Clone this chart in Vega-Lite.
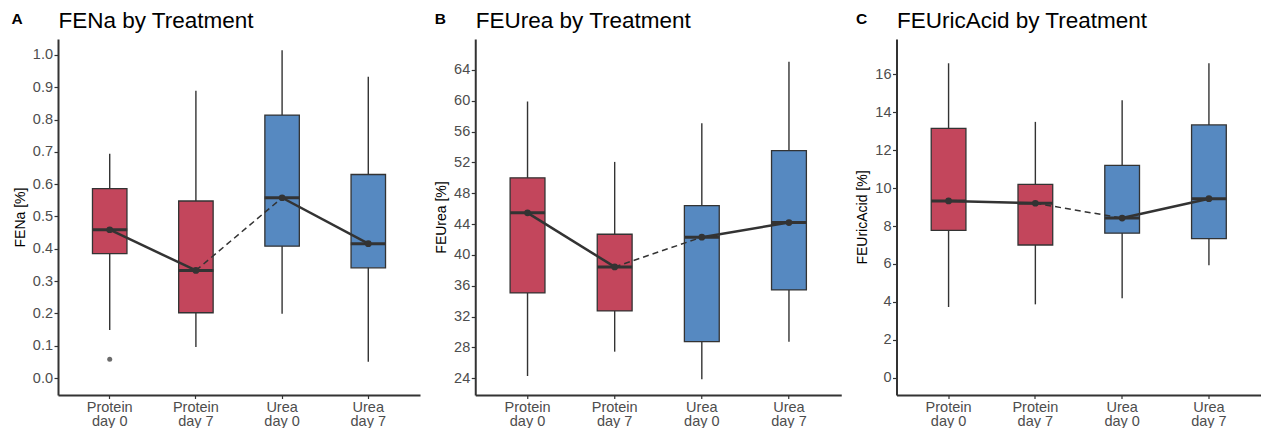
{
  "$schema": "https://vega.github.io/schema/vega-lite/v6.json",
  "padding": {"left": 11, "top": 9, "right": 0, "bottom": 0},
  "background": "white",
  "bounds": "flush",
  "spacing": 55.25,
  "config": {
    "font": "Liberation Sans",
    "view": {"stroke": null},
    "axis": {
      "grid": false,
      "domainColor": "#333333",
      "domainWidth": 2,
      "tickColor": "#333333",
      "tickWidth": 1.2,
      "labelColor": "#4D4D4D",
      "labelFontSize": 14.5,
      "titleColor": "#000000",
      "titleFontWeight": "normal",
      "titleFontSize": 14
    }
  },
  "datasets": {
    "stats": [
      {"panel": "FENa", "treatment": "Protein day 0", "group": "Protein", "lower": 0.149, "q1": 0.385, "median": 0.459, "q3": 0.586, "upper": 0.694},
      {"panel": "FENa", "treatment": "Protein day 7", "group": "Protein", "lower": 0.096, "q1": 0.202, "median": 0.333, "q3": 0.548, "upper": 0.889},
      {"panel": "FENa", "treatment": "Urea day 0", "group": "Urea", "lower": 0.199, "q1": 0.408, "median": 0.558, "q3": 0.814, "upper": 1.015},
      {"panel": "FENa", "treatment": "Urea day 7", "group": "Urea", "lower": 0.05, "q1": 0.341, "median": 0.416, "q3": 0.63, "upper": 0.933},
      {"panel": "FEUrea", "treatment": "Protein day 0", "group": "Protein", "lower": 24.3, "q1": 35.07, "median": 45.45, "q3": 50.0, "upper": 59.9},
      {"panel": "FEUrea", "treatment": "Protein day 7", "group": "Protein", "lower": 27.45, "q1": 32.73, "median": 38.44, "q3": 42.68, "upper": 52.06},
      {"panel": "FEUrea", "treatment": "Urea day 0", "group": "Urea", "lower": 23.87, "q1": 28.75, "median": 42.3, "q3": 46.4, "upper": 57.08},
      {"panel": "FEUrea", "treatment": "Urea day 7", "group": "Urea", "lower": 28.75, "q1": 35.46, "median": 44.19, "q3": 53.53, "upper": 65.04},
      {"panel": "FEUricAcid", "treatment": "Protein day 0", "group": "Protein", "lower": 3.73, "q1": 7.77, "median": 9.32, "q3": 13.15, "upper": 16.58},
      {"panel": "FEUricAcid", "treatment": "Protein day 7", "group": "Protein", "lower": 3.87, "q1": 7.0, "median": 9.2, "q3": 10.2, "upper": 13.49},
      {"panel": "FEUricAcid", "treatment": "Urea day 0", "group": "Urea", "lower": 4.19, "q1": 7.62, "median": 8.42, "q3": 11.2, "upper": 14.63},
      {"panel": "FEUricAcid", "treatment": "Urea day 7", "group": "Urea", "lower": 5.93, "q1": 7.33, "median": 9.44, "q3": 13.33, "upper": 16.58}
    ],
    "segs": [
      {"panel": "FENa", "seg": 1, "style": "solid", "treatment": "Protein day 0", "median": 0.459},
      {"panel": "FENa", "seg": 1, "style": "solid", "treatment": "Protein day 7", "median": 0.333},
      {"panel": "FENa", "seg": 2, "style": "dashed", "treatment": "Protein day 7", "median": 0.333},
      {"panel": "FENa", "seg": 2, "style": "dashed", "treatment": "Urea day 0", "median": 0.558},
      {"panel": "FENa", "seg": 3, "style": "solid", "treatment": "Urea day 0", "median": 0.558},
      {"panel": "FENa", "seg": 3, "style": "solid", "treatment": "Urea day 7", "median": 0.416},
      {"panel": "FEUrea", "seg": 1, "style": "solid", "treatment": "Protein day 0", "median": 45.45},
      {"panel": "FEUrea", "seg": 1, "style": "solid", "treatment": "Protein day 7", "median": 38.44},
      {"panel": "FEUrea", "seg": 2, "style": "dashed", "treatment": "Protein day 7", "median": 38.44},
      {"panel": "FEUrea", "seg": 2, "style": "dashed", "treatment": "Urea day 0", "median": 42.3},
      {"panel": "FEUrea", "seg": 3, "style": "solid", "treatment": "Urea day 0", "median": 42.3},
      {"panel": "FEUrea", "seg": 3, "style": "solid", "treatment": "Urea day 7", "median": 44.19},
      {"panel": "FEUricAcid", "seg": 1, "style": "solid", "treatment": "Protein day 0", "median": 9.32},
      {"panel": "FEUricAcid", "seg": 1, "style": "solid", "treatment": "Protein day 7", "median": 9.2},
      {"panel": "FEUricAcid", "seg": 2, "style": "dashed", "treatment": "Protein day 7", "median": 9.2},
      {"panel": "FEUricAcid", "seg": 2, "style": "dashed", "treatment": "Urea day 0", "median": 8.42},
      {"panel": "FEUricAcid", "seg": 3, "style": "solid", "treatment": "Urea day 0", "median": 8.42},
      {"panel": "FEUricAcid", "seg": 3, "style": "solid", "treatment": "Urea day 7", "median": 9.44}
    ],
    "outliers": [
      {"panel": "FENa", "treatment": "Protein day 0", "value": 0.058}
    ]
  },
  "hconcat": [
    {
      "width": 362,
      "height": 356,
      "resolve": {"axis": {"x": "independent", "y": "independent"}},
      "layer": [
        {
          "data": {"name": "stats"},
          "transform": [{"filter": "datum.panel === 'FENa'"}],
          "mark": {"type": "rule", "color": "#333333", "strokeWidth": 1.4},
          "encoding": {
            "x": {"field": "treatment", "type": "nominal", "sort": ["Protein day 0", "Protein day 7", "Urea day 0", "Urea day 7"], "scale": {"paddingInner": 0.6, "paddingOuter": 0.4},
              "axis": {"orient": "bottom", "title": "A", "titleX": -47, "titleY": -372, "titleAlign": "left", "titleBaseline": "alphabetic", "titleAngle": 0, "titleFontWeight": "bold", "titleFontSize": 15.5, "labelAngle": 0, "labelBaseline": "top", "labelExpr": "[substring(datum.label, 0, indexof(datum.label, ' ')), substring(datum.label, indexof(datum.label, ' ') + 1)]", "labelLineHeight": 14.5, "labelPadding": 1.5, "tickSize": 3.5}},
            "y": {"field": "lower", "type": "quantitative", "scale": {"domain": [-0.0526, 1.0495], "nice": false, "zero": false},
              "axis": {"orient": "left", "title": "FENa [%]", "values": [0, 0.1, 0.2, 0.3, 0.4, 0.5, 0.6, 0.7, 0.8, 0.9, 1.0], "format": ".1f", "tickSize": 4, "labelPadding": 1.5, "titlePadding": 5}},
            "y2": {"field": "upper"}
          }
        },
        {
          "data": {"name": "stats"},
          "transform": [{"filter": "datum.panel === 'FENa'"}],
          "mark": {"type": "bar", "stroke": "#333333", "strokeWidth": 1.3},
          "encoding": {
            "x": {"field": "treatment", "type": "nominal", "sort": ["Protein day 0", "Protein day 7", "Urea day 0", "Urea day 7"], "scale": {"paddingInner": 0.6, "paddingOuter": 0.4}, "axis": null},
            "y": {"field": "q1", "type": "quantitative", "scale": {"domain": [-0.0526, 1.0495], "nice": false, "zero": false}, "axis": null},
            "y2": {"field": "q3"},
            "color": {"field": "group", "type": "nominal", "scale": {"domain": ["Protein", "Urea"], "range": ["#C3465C", "#5689C1"]}, "legend": null}
          }
        },
        {
          "data": {"name": "stats"},
          "transform": [{"filter": "datum.panel === 'FENa'"}],
          "mark": {"type": "tick", "orient": "horizontal", "color": "#333333", "thickness": 3, "size": 35, "opacity": 1},
          "encoding": {
            "x": {"field": "treatment", "type": "nominal", "sort": ["Protein day 0", "Protein day 7", "Urea day 0", "Urea day 7"], "scale": {"paddingInner": 0.6, "paddingOuter": 0.4}, "axis": null},
            "y": {"field": "median", "type": "quantitative", "scale": {"domain": [-0.0526, 1.0495], "nice": false, "zero": false}, "axis": null}
          }
        },
        {
          "data": {"name": "segs"},
          "transform": [{"filter": "datum.panel === 'FENa' && datum.style === 'solid'"}],
          "mark": {"type": "line", "color": "#333333", "strokeWidth": 2.5},
          "encoding": {
            "x": {"field": "treatment", "type": "nominal", "sort": ["Protein day 0", "Protein day 7", "Urea day 0", "Urea day 7"], "scale": {"paddingInner": 0.6, "paddingOuter": 0.4}, "axis": null},
            "y": {"field": "median", "type": "quantitative", "scale": {"domain": [-0.0526, 1.0495], "nice": false, "zero": false}, "axis": null},
            "detail": {"field": "seg", "type": "nominal"}
          }
        },
        {
          "data": {"name": "segs"},
          "transform": [{"filter": "datum.panel === 'FENa' && datum.style === 'dashed'"}],
          "mark": {"type": "line", "color": "#333333", "strokeWidth": 1.5, "strokeDash": [6, 4]},
          "encoding": {
            "x": {"field": "treatment", "type": "nominal", "sort": ["Protein day 0", "Protein day 7", "Urea day 0", "Urea day 7"], "scale": {"paddingInner": 0.6, "paddingOuter": 0.4}, "axis": null},
            "y": {"field": "median", "type": "quantitative", "scale": {"domain": [-0.0526, 1.0495], "nice": false, "zero": false}, "axis": null},
            "detail": {"field": "seg", "type": "nominal"}
          }
        },
        {
          "data": {"name": "stats"},
          "transform": [{"filter": "datum.panel === 'FENa'"}],
          "mark": {"type": "point", "filled": true, "color": "#333333", "size": 45, "opacity": 1},
          "encoding": {
            "x": {"field": "treatment", "type": "nominal", "sort": ["Protein day 0", "Protein day 7", "Urea day 0", "Urea day 7"], "scale": {"paddingInner": 0.6, "paddingOuter": 0.4},
              "axis": {"orient": "top", "domain": false, "ticks": false, "labels": false, "title": "FENa by Treatment", "titleX": 0, "titleY": -12, "titleAlign": "left", "titleBaseline": "alphabetic", "titleAngle": 0, "titleFontSize": 22.5, "titleFontWeight": "normal", "titleColor": "#000000"}},
            "y": {"field": "median", "type": "quantitative", "scale": {"domain": [-0.0526, 1.0495], "nice": false, "zero": false}, "axis": null}
          }
        },
        {
          "data": {"name": "outliers"},
          "transform": [{"filter": "datum.panel === 'FENa'"}],
          "mark": {"type": "point", "filled": true, "color": "#6B6B6B", "size": 25, "opacity": 1},
          "encoding": {
            "x": {"field": "treatment", "type": "nominal", "sort": ["Protein day 0", "Protein day 7", "Urea day 0", "Urea day 7"], "scale": {"paddingInner": 0.6, "paddingOuter": 0.4}, "axis": null},
            "y": {"field": "value", "type": "quantitative", "scale": {"domain": [-0.0526, 1.0495], "nice": false, "zero": false}, "axis": null}
          }
        }
      ]
    },
    {
      "width": 366,
      "height": 356,
      "resolve": {"axis": {"x": "independent", "y": "independent"}},
      "layer": [
        {
          "data": {"name": "stats"},
          "transform": [{"filter": "datum.panel === 'FEUrea'"}],
          "mark": {"type": "rule", "color": "#333333", "strokeWidth": 1.4},
          "encoding": {
            "x": {"field": "treatment", "type": "nominal", "sort": ["Protein day 0", "Protein day 7", "Urea day 0", "Urea day 7"], "scale": {"paddingInner": 0.6, "paddingOuter": 0.4},
              "axis": {"orient": "bottom", "title": "B", "titleX": -41, "titleY": -372, "titleAlign": "left", "titleBaseline": "alphabetic", "titleAngle": 0, "titleFontWeight": "bold", "titleFontSize": 15.5, "labelAngle": 0, "labelBaseline": "top", "labelExpr": "[substring(datum.label, 0, indexof(datum.label, ' ')), substring(datum.label, indexof(datum.label, ' ') + 1)]", "labelLineHeight": 14.5, "labelPadding": 1.5, "tickSize": 3.5}},
            "y": {"field": "lower", "type": "quantitative", "scale": {"domain": [21.83, 68.0], "nice": false, "zero": false},
              "axis": {"orient": "left", "title": "FEUrea [%]", "values": [24, 28, 32, 36, 40, 44, 48, 52, 56, 60, 64], "format": "d", "tickSize": 4, "labelPadding": 1.5, "titlePadding": 5}},
            "y2": {"field": "upper"}
          }
        },
        {
          "data": {"name": "stats"},
          "transform": [{"filter": "datum.panel === 'FEUrea'"}],
          "mark": {"type": "bar", "stroke": "#333333", "strokeWidth": 1.3},
          "encoding": {
            "x": {"field": "treatment", "type": "nominal", "sort": ["Protein day 0", "Protein day 7", "Urea day 0", "Urea day 7"], "scale": {"paddingInner": 0.6, "paddingOuter": 0.4}, "axis": null},
            "y": {"field": "q1", "type": "quantitative", "scale": {"domain": [21.83, 68.0], "nice": false, "zero": false}, "axis": null},
            "y2": {"field": "q3"},
            "color": {"field": "group", "type": "nominal", "scale": {"domain": ["Protein", "Urea"], "range": ["#C3465C", "#5689C1"]}, "legend": null}
          }
        },
        {
          "data": {"name": "stats"},
          "transform": [{"filter": "datum.panel === 'FEUrea'"}],
          "mark": {"type": "tick", "orient": "horizontal", "color": "#333333", "thickness": 3, "size": 35, "opacity": 1},
          "encoding": {
            "x": {"field": "treatment", "type": "nominal", "sort": ["Protein day 0", "Protein day 7", "Urea day 0", "Urea day 7"], "scale": {"paddingInner": 0.6, "paddingOuter": 0.4}, "axis": null},
            "y": {"field": "median", "type": "quantitative", "scale": {"domain": [21.83, 68.0], "nice": false, "zero": false}, "axis": null}
          }
        },
        {
          "data": {"name": "segs"},
          "transform": [{"filter": "datum.panel === 'FEUrea' && datum.style === 'solid'"}],
          "mark": {"type": "line", "color": "#333333", "strokeWidth": 2.5},
          "encoding": {
            "x": {"field": "treatment", "type": "nominal", "sort": ["Protein day 0", "Protein day 7", "Urea day 0", "Urea day 7"], "scale": {"paddingInner": 0.6, "paddingOuter": 0.4}, "axis": null},
            "y": {"field": "median", "type": "quantitative", "scale": {"domain": [21.83, 68.0], "nice": false, "zero": false}, "axis": null},
            "detail": {"field": "seg", "type": "nominal"}
          }
        },
        {
          "data": {"name": "segs"},
          "transform": [{"filter": "datum.panel === 'FEUrea' && datum.style === 'dashed'"}],
          "mark": {"type": "line", "color": "#333333", "strokeWidth": 1.5, "strokeDash": [6, 4]},
          "encoding": {
            "x": {"field": "treatment", "type": "nominal", "sort": ["Protein day 0", "Protein day 7", "Urea day 0", "Urea day 7"], "scale": {"paddingInner": 0.6, "paddingOuter": 0.4}, "axis": null},
            "y": {"field": "median", "type": "quantitative", "scale": {"domain": [21.83, 68.0], "nice": false, "zero": false}, "axis": null},
            "detail": {"field": "seg", "type": "nominal"}
          }
        },
        {
          "data": {"name": "stats"},
          "transform": [{"filter": "datum.panel === 'FEUrea'"}],
          "mark": {"type": "point", "filled": true, "color": "#333333", "size": 45, "opacity": 1},
          "encoding": {
            "x": {"field": "treatment", "type": "nominal", "sort": ["Protein day 0", "Protein day 7", "Urea day 0", "Urea day 7"], "scale": {"paddingInner": 0.6, "paddingOuter": 0.4},
              "axis": {"orient": "top", "domain": false, "ticks": false, "labels": false, "title": "FEUrea by Treatment", "titleX": 0, "titleY": -12, "titleAlign": "left", "titleBaseline": "alphabetic", "titleAngle": 0, "titleFontSize": 22.5, "titleFontWeight": "normal", "titleColor": "#000000"}},
            "y": {"field": "median", "type": "quantitative", "scale": {"domain": [21.83, 68.0], "nice": false, "zero": false}, "axis": null}
          }
        }
      ]
    },
    {
      "width": 364.5,
      "height": 356,
      "resolve": {"axis": {"x": "independent", "y": "independent"}},
      "layer": [
        {
          "data": {"name": "stats"},
          "transform": [{"filter": "datum.panel === 'FEUricAcid'"}],
          "mark": {"type": "rule", "color": "#333333", "strokeWidth": 1.4},
          "encoding": {
            "x": {"field": "treatment", "type": "nominal", "sort": ["Protein day 0", "Protein day 7", "Urea day 0", "Urea day 7"], "scale": {"paddingInner": 0.6, "paddingOuter": 0.4},
              "axis": {"orient": "bottom", "title": "C", "titleX": -41, "titleY": -372, "titleAlign": "left", "titleBaseline": "alphabetic", "titleAngle": 0, "titleFontWeight": "bold", "titleFontSize": 15.5, "labelAngle": 0, "labelBaseline": "top", "labelExpr": "[substring(datum.label, 0, indexof(datum.label, ' ')), substring(datum.label, indexof(datum.label, ' ') + 1)]", "labelLineHeight": 14.5, "labelPadding": 1.5, "tickSize": 3.5}},
            "y": {"field": "lower", "type": "quantitative", "scale": {"domain": [-0.91, 17.86], "nice": false, "zero": false},
              "axis": {"orient": "left", "title": "FEUricAcid [%]", "values": [0, 2, 4, 6, 8, 10, 12, 14, 16], "format": "d", "tickSize": 4, "labelPadding": 1.5, "titlePadding": 5}},
            "y2": {"field": "upper"}
          }
        },
        {
          "data": {"name": "stats"},
          "transform": [{"filter": "datum.panel === 'FEUricAcid'"}],
          "mark": {"type": "bar", "stroke": "#333333", "strokeWidth": 1.3},
          "encoding": {
            "x": {"field": "treatment", "type": "nominal", "sort": ["Protein day 0", "Protein day 7", "Urea day 0", "Urea day 7"], "scale": {"paddingInner": 0.6, "paddingOuter": 0.4}, "axis": null},
            "y": {"field": "q1", "type": "quantitative", "scale": {"domain": [-0.91, 17.86], "nice": false, "zero": false}, "axis": null},
            "y2": {"field": "q3"},
            "color": {"field": "group", "type": "nominal", "scale": {"domain": ["Protein", "Urea"], "range": ["#C3465C", "#5689C1"]}, "legend": null}
          }
        },
        {
          "data": {"name": "stats"},
          "transform": [{"filter": "datum.panel === 'FEUricAcid'"}],
          "mark": {"type": "tick", "orient": "horizontal", "color": "#333333", "thickness": 3, "size": 35, "opacity": 1},
          "encoding": {
            "x": {"field": "treatment", "type": "nominal", "sort": ["Protein day 0", "Protein day 7", "Urea day 0", "Urea day 7"], "scale": {"paddingInner": 0.6, "paddingOuter": 0.4}, "axis": null},
            "y": {"field": "median", "type": "quantitative", "scale": {"domain": [-0.91, 17.86], "nice": false, "zero": false}, "axis": null}
          }
        },
        {
          "data": {"name": "segs"},
          "transform": [{"filter": "datum.panel === 'FEUricAcid' && datum.style === 'solid'"}],
          "mark": {"type": "line", "color": "#333333", "strokeWidth": 2.5},
          "encoding": {
            "x": {"field": "treatment", "type": "nominal", "sort": ["Protein day 0", "Protein day 7", "Urea day 0", "Urea day 7"], "scale": {"paddingInner": 0.6, "paddingOuter": 0.4}, "axis": null},
            "y": {"field": "median", "type": "quantitative", "scale": {"domain": [-0.91, 17.86], "nice": false, "zero": false}, "axis": null},
            "detail": {"field": "seg", "type": "nominal"}
          }
        },
        {
          "data": {"name": "segs"},
          "transform": [{"filter": "datum.panel === 'FEUricAcid' && datum.style === 'dashed'"}],
          "mark": {"type": "line", "color": "#333333", "strokeWidth": 1.5, "strokeDash": [6, 4]},
          "encoding": {
            "x": {"field": "treatment", "type": "nominal", "sort": ["Protein day 0", "Protein day 7", "Urea day 0", "Urea day 7"], "scale": {"paddingInner": 0.6, "paddingOuter": 0.4}, "axis": null},
            "y": {"field": "median", "type": "quantitative", "scale": {"domain": [-0.91, 17.86], "nice": false, "zero": false}, "axis": null},
            "detail": {"field": "seg", "type": "nominal"}
          }
        },
        {
          "data": {"name": "stats"},
          "transform": [{"filter": "datum.panel === 'FEUricAcid'"}],
          "mark": {"type": "point", "filled": true, "color": "#333333", "size": 45, "opacity": 1},
          "encoding": {
            "x": {"field": "treatment", "type": "nominal", "sort": ["Protein day 0", "Protein day 7", "Urea day 0", "Urea day 7"], "scale": {"paddingInner": 0.6, "paddingOuter": 0.4},
              "axis": {"orient": "top", "domain": false, "ticks": false, "labels": false, "title": "FEUricAcid by Treatment", "titleX": 0, "titleY": -12, "titleAlign": "left", "titleBaseline": "alphabetic", "titleAngle": 0, "titleFontSize": 22.5, "titleFontWeight": "normal", "titleColor": "#000000"}},
            "y": {"field": "median", "type": "quantitative", "scale": {"domain": [-0.91, 17.86], "nice": false, "zero": false}, "axis": null}
          }
        }
      ]
    }
  ]
}
